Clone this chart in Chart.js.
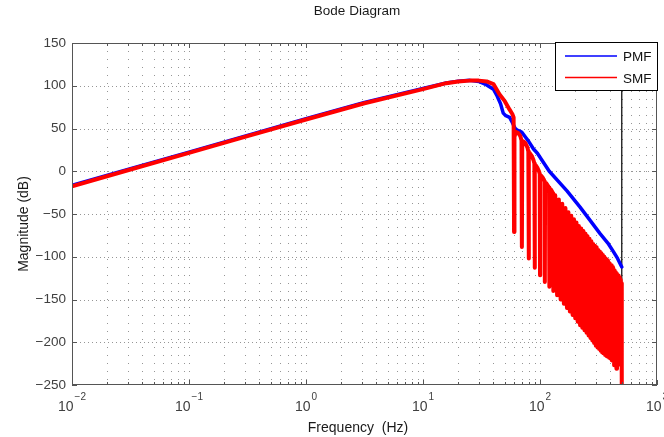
<!DOCTYPE html>
<html><head><meta charset="utf-8">
<script src="https://cdn.jsdelivr.net/npm/chart.js@4.4.1/dist/chart.umd.min.js"></script>
<style>html,body{margin:0;padding:0;background:#fff;}#wrap{width:664px;height:437px;position:relative;}</style>
</head><body><div id="wrap"><canvas id="c" width="664" height="437"></canvas></div>
<script>
// ---------- data ----------
const chartTitle = 'Bode Diagram';
const xAxisTitle = 'Frequency  (Hz)';
const yAxisTitle = 'Magnitude (dB)';
const seriesNames = ['PMF', 'SMF'];

const xDecades = [0.01, 0.1, 1, 10, 100, 1000];
const xExponents = ['\u22122', '\u22121', '0', '1', '2', '3'];
const yTicks = [150, 100, 50, 0, -50, -100, -150, -200, -250];

const pmfFreq = [0.01, 0.0316, 0.1, 0.316, 1, 3.16, 10, 15.8, 20, 25, 30, 35, 40, 43, 46, 48.5, 51, 55, 58, 61, 64, 67, 70, 75, 80, 88, 95, 105, 120, 170, 220, 270, 326, 380, 424, 460, 500];
const pmfMag  = [-16.6, 2.9, 22.4, 41.9, 61.4, 80.4, 96.8, 103.3, 105.4, 106.3, 105, 101, 96, 88, 79, 68, 65, 63, 57, 50.5, 48, 47, 45.5, 40, 35, 26, 21, 12, 0, -23, -42, -58, -73, -84, -94, -102, -112];

const smfFreq = [0.01, 0.0316, 0.1, 0.316, 1, 3.16, 10, 15.8, 20, 25, 30, 35, 40, 45, 50, 55, 58, 59.5,
  60, 60.5, 62, 65, 68, 69.5,
  70, 70.5, 72, 75, 78, 79.5,
  80, 80.5, 82, 85, 88, 89.5,
  90, 90.5, 92, 95, 98, 99.5,
  100, 100.5, 102, 105, 108, 109.5,
  110, 110.5, 113, 117, 119.5,
  120, 120.5, 125, 129.5,
  130, 135, 140, 145, 150, 155, 160, 165, 170, 175, 180, 185, 190, 195, 200, 205,
  210, 215, 220, 225, 230, 235, 240, 245, 250, 255, 260, 265, 270, 275, 280, 285,
  290, 295, 300, 305, 310, 315, 320, 325, 330, 335, 340, 345, 350, 355, 360, 365,
  370, 375, 380, 385, 390, 395, 400, 405, 410, 415, 420, 425, 430, 435, 440, 445,
  450, 455, 460, 465, 470, 475, 480, 485, 490, 495, 500];
const smfMag = [-17.5, 2, 21.5, 41, 60.5, 79.5, 96, 103, 105, 106, 106, 105, 102, 90, 82, 72, 67, 63,
  -71, 40, 46, 45, 41, 36,
  -88.5, 32, 35, 33, 28, 23,
  -102, 19, 21, 18, 13, 9,
  -113, 6, 7, 4, 0, -3,
  -121.6, -5, -5, -7, -10, -12,
  -129.5, -13, -14, -17, -19,
  -135, -20, -22, -26,
  -140, -28, -145, -33, -150, -38, -155, -43, -160, -48, -164, -52, -168, -56, -172, -60,
  -176, -64, -180, -67, -183, -70, -186, -73, -189, -76, -192, -79, -195, -82, -198, -85,
  -201, -87, -204, -89, -206, -92, -208, -94, -210, -96, -212, -98, -213, -100, -215, -102,
  -216, -104, -217, -106, -218, -108, -219, -110, -221, -112, -222, -114, -227, -116, -221, -118,
  -231, -120, -223, -122, -220, -124, -226, -127, -219, -131, -250];

const nyquistFreq = [500, 500];
const nyquistMag = [150, -250];

// ---------- chart ----------
const FONT = '"Liberation Sans", Arial, Helvetica, sans-serif';
const pts = (fs, ms) => fs.map((f, i) => ({ x: f, y: ms[i] }));
const minus = s => String(s).replace('-', '\u2212');

const decor = {
  id: 'decor',
  beforeDatasetsDraw(chart) {
    const { ctx, chartArea: a, scales: { x, y } } = chart;
    ctx.save();
    ctx.strokeStyle = 'rgba(80,80,80,0.6)';
    ctx.lineWidth = 1;
    ctx.setLineDash([1, 7]);
    for (let d = 0; d < xDecades.length - 1; d++) {
      for (let k = 1; k <= 9; k++) {
        const px = Math.round(x.getPixelForValue(xDecades[d] * k)) + 0.5;
        if (px <= a.left + 1 || px >= a.right - 1) continue;
        ctx.beginPath(); ctx.moveTo(px, a.top); ctx.lineTo(px, a.bottom); ctx.stroke();
      }
    }
    ctx.setLineDash([1, 3]);
    for (const v of yTicks) {
      const py = Math.round(y.getPixelForValue(v)) + 0.5;
      if (py <= a.top + 1 || py >= a.bottom - 1) continue;
      ctx.beginPath(); ctx.moveTo(a.left, py); ctx.lineTo(a.right, py); ctx.stroke();
    }
    ctx.restore();
  },
  afterDatasetsDraw(chart) {
    const { ctx, chartArea: a, scales: { x, y } } = chart;
    ctx.save();
    ctx.strokeStyle = '#555';
    ctx.lineWidth = 1;
    ctx.strokeRect(a.left + 0.5, a.top + 0.5, a.right - a.left - 1, a.bottom - a.top - 1);
    ctx.beginPath();
    for (const v of yTicks) {
      const py = Math.round(y.getPixelForValue(v)) + 0.5;
      ctx.moveTo(a.left, py); ctx.lineTo(a.left + 5, py);
      ctx.moveTo(a.right, py); ctx.lineTo(a.right - 5, py);
    }
    for (let d = 0; d < xDecades.length; d++) {
      for (let k = 1; k <= (d === xDecades.length - 1 ? 1 : 9); k++) {
        const px = Math.round(x.getPixelForValue(xDecades[d] * k)) + 0.5;
        const len = k === 1 ? 5 : 3;
        ctx.moveTo(px, a.bottom); ctx.lineTo(px, a.bottom - len);
        ctx.moveTo(px, a.top); ctx.lineTo(px, a.top + len);
      }
    }
    ctx.stroke();
    ctx.fillStyle = '#404040';
    ctx.textBaseline = 'alphabetic';
    ctx.textAlign = 'left';
    xDecades.forEach((v, i) => {
      const px = x.getPixelForValue(v);
      ctx.font = '14px ' + FONT;
      const w1 = ctx.measureText('10').width;
      ctx.font = '10px ' + FONT;
      const w2 = ctx.measureText(xExponents[i]).width;
      const start = px - (w1 + 1 + w2) / 2;
      ctx.font = '14px ' + FONT;
      ctx.fillText('10', start, 411);
      ctx.font = '10px ' + FONT;
      ctx.fillText(xExponents[i], start + w1 + 1, 400);
    });
    ctx.fillStyle = '#1a1a1a';
    ctx.textAlign = 'center';
    ctx.font = '13.5px ' + FONT;
    ctx.fillText(chartTitle, 357, 15);
    ctx.font = '14px ' + FONT;
    ctx.fillText(xAxisTitle, 358, 432);
    ctx.save();
    ctx.translate(28, 224);
    ctx.rotate(-Math.PI / 2);
    ctx.fillText(yAxisTitle, 0, 0);
    ctx.restore();
    ctx.restore();
  },
  afterDraw(chart) {
    const { ctx } = chart;
    ctx.save();
    ctx.fillStyle = '#fff';
    ctx.fillRect(555, 42, 103, 49);
    ctx.strokeStyle = '#000';
    ctx.lineWidth = 1;
    ctx.strokeRect(555.5, 42.5, 102, 48);
    const cols = [chart.data.datasets[0].borderColor, chart.data.datasets[1].borderColor];
    const rows = [56, 77.5];
    ctx.font = '13.5px ' + FONT;
    ctx.textAlign = 'left';
    ctx.textBaseline = 'alphabetic';
    seriesNames.forEach((n, i) => {
      ctx.strokeStyle = cols[i];
      ctx.lineWidth = 1.5;
      ctx.beginPath(); ctx.moveTo(565, rows[i]); ctx.lineTo(617, rows[i]); ctx.stroke();
      ctx.fillStyle = '#111';
      ctx.fillText(n, 623, rows[i] + 5);
    });
    ctx.restore();
  }
};

new Chart(document.getElementById('c'), {
  type: 'line',
  data: {
    datasets: [
      { label: seriesNames[0], data: pts(pmfFreq, pmfMag), borderColor: '#0000ff', borderWidth: 3.5, order: 1, clip: 0 },
      { label: seriesNames[1], data: pts(smfFreq, smfMag), borderColor: '#ff0000', borderWidth: 4, order: 0, clip: 0 },
      { label: 'Nyquist', data: pts(nyquistFreq, nyquistMag), borderColor: '#000000', borderWidth: 1.2, order: 2, clip: 0 }
    ]
  },
  options: {
    responsive: false,
    animation: false,
    devicePixelRatio: 1,
    layout: { padding: { top: 43, right: 7, left: 0, bottom: 0 } },
    elements: {
      point: { radius: 0, hoverRadius: 0 },
      line: { tension: 0, borderJoinStyle: 'round', borderCapStyle: 'round', fill: false }
    },
    plugins: { legend: { display: false }, tooltip: { enabled: false }, title: { display: false } },
    scales: {
      x: {
        type: 'logarithmic', min: 0.01, max: 1000,
        grid: { display: false, drawTicks: false }, border: { display: false },
        ticks: { display: false },
        afterFit(s) { s.height = 52; }
      },
      y: {
        type: 'linear', min: -250, max: 150,
        grid: { display: false, drawTicks: false }, border: { display: false },
        ticks: { stepSize: 50, padding: 6, color: '#404040', font: { family: FONT, size: 13.5 }, callback: v => minus(v) },
        afterFit(s) { s.width = 72; }
      }
    }
  },
  plugins: [decor]
});
</script></body></html>
